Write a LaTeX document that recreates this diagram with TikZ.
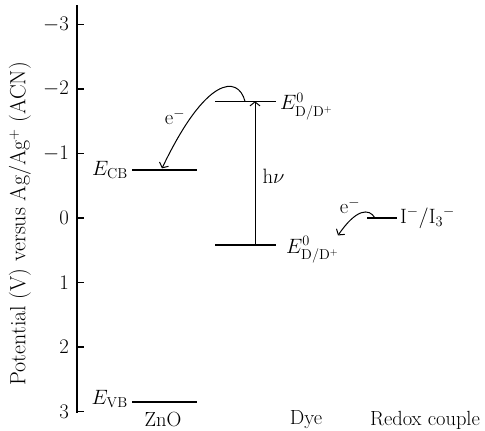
\documentclass[tikz,border=0pt]{standalone}
\usepackage{amsmath}
\usetikzlibrary{arrows.meta,positioning}

\begin{document}
\begin{tikzpicture}[x=1pt,y=-64.5pt,node distance=4pt,
    font=\fontsize{20.5}{24}\selectfont,
    lab/.style={inner sep=0pt},
    band/.style={line width=1.9pt},
    lvl/.style={line width=1.2pt},
    arr/.style={-{Straight Barb[length=4pt,width=10pt]},line width=1pt}]
  \useasboundingbox (0,-3.38) rectangle (485,3.30);
  % potential axis
  \draw[line width=1.1pt] (77,-3.30) -- (77,3.02);
  \foreach \v in {-3,...,3}{
    \draw[line width=1.1pt] (77,\v) -- (84,\v);
    \node[lab,anchor=east] (tick\v) at (69,\v) {$\v$};}
  \node[lab,rotate=90,font=\fontsize{22}{26}\selectfont] (ylab) at (20,0.09) {Potential (V) versus Ag/Ag$^{+}$ (ACN)};
  % levels
  \coordinate (cbL) at (132,-0.74); \coordinate (cbR) at (197,-0.74);
  \coordinate (vbL) at (132,2.85);  \coordinate (vbR) at (197,2.85);
  \coordinate (luL) at (215,-1.81); \coordinate (luR) at (276,-1.81);
  \coordinate (hoL) at (215,0.42);  \coordinate (hoR) at (276,0.42);
  \coordinate (rdL) at (367,0);     \coordinate (rdR) at (397,0);
  \draw[band] (cbL) -- (cbR); \draw[band] (vbL) -- (vbR);
  \draw[lvl] (luL) -- (luR); \draw[lvl] (hoL) -- (hoR); \draw[lvl] (rdL) -- (rdR);
  \node[lab,left=of cbL] (ecb) {$E_{\mathrm{CB}}$};
  \node[lab,left=of vbL,yshift=3pt] (evb) {$E_{\mathrm{VB}}$};
  \node[lab,right=of luR,yshift=-5pt] (elu) {$E^{0}_{\mathrm{D/D^{+}}}$};
  \node[lab,right=10pt of hoR,yshift=-5pt] (eho) {$E^{0}_{\mathrm{D/D^{+}}}$};
  \node[lab,right=3pt of rdR] (eredox) {$\mathrm{I^{-}/I_{3}{}^{-}}$};
  % excitation and electron transfer
  \coordinate (hvB) at (255,0.42); \coordinate (hvT) at (255,-1.81);
  \draw[arr] (hvB) -- (hvT) node[lab,pos=0.48,right=7pt] (hv) {$\mathrm{h}\nu$};
  \coordinate (injS) at (245,-1.81); \coordinate (injE) at (162,-0.77);
  \draw[arr] (injS) .. controls (238,-2.22) and (206,-2.2) .. (injE);
  \node[lab] (einj) at (175,-1.57) {$\mathrm{e}^{-}$};
  \coordinate (regS) at (375,0); \coordinate (regE) at (338,0.27);
  \draw[arr] (regS) .. controls (369,-0.16) and (356,-0.14) .. (regE);
  \node[lab] (ereg) at (350,-0.19) {$\mathrm{e}^{-}$};
  % labels below
  \node[lab] (zno) at (163,3.13) {ZnO};
  \node[lab] (dye) at (306,3.13) {Dye};
  \node[lab] (redox) at (425,3.13) {Redox couple};
\end{tikzpicture}
\end{document}
